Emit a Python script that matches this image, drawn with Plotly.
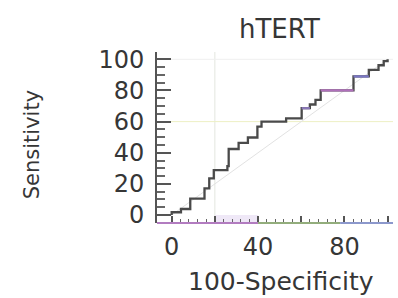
import plotly.graph_objects as go

# ---- data ----
TITLE = "hTERT"
X_TITLE = "100-Specificity"
Y_TITLE = "Sensitivity"

# ROC step corners: at FPR[i] the curve rises to TPR[i]
FPR = [0, 0, 4.3, 8.6, 15.2, 17.4, 19.5, 25.8, 26.4, 31.0, 35.3, 39.7, 41.6, 53.0, 60.2, 64.0, 66.6, 69.0, 84.2, 91.3, 95.8, 98.2, 100]
TPR = [0, 1.8, 3.9, 10.6, 17.1, 23.5, 28.8, 31.4, 42.4, 46.4, 49.8, 56.8, 60.0, 62.1, 68.6, 71.0, 74.0, 80.0, 89.0, 93.2, 96.2, 98.8, 100]

DIAG_X = [0, 100]
DIAG_Y = [0, 100]

CUT_X = 20     # vertical criterion line
CUT_Y = 60     # horizontal criterion line

X_TICKS = [0, 20, 40, 60, 80, 100]
X_LABELS = ["0", "", "40", "", "80", ""]
Y_TICKS = [0, 20, 40, 60, 80, 100]
Y_LABELS = ["0", "20", "40", "60", "80", "100"]
X_MINOR = [v for v in range(4, 100, 4) if v % 20 != 0]
Y_MINOR = [v for v in range(5, 100, 5) if v % 20 != 0]

X_RANGE = [-6.8, 102.5]
Y_RANGE = [-5.1, 104.7]

# ---- figure ----
TXT = "#363636"
AX = "#555555"
FONT = "DejaVu Sans"

fig = go.Figure()

# diagonal reference
fig.add_trace(go.Scatter(x=DIAG_X, y=DIAG_Y, mode="lines",
                         line=dict(color="#e2e2e2", width=1), hoverinfo="skip", showlegend=False))

# ROC curve
fig.add_trace(go.Scatter(x=FPR, y=TPR, mode="lines", line_shape="hv",
                         line=dict(color="#4a4a4a", width=2.3), showlegend=False))

# coloured horizontal segments (as in the reference)
HILITE = {17: "#b070bb", 18: "#7a76c4", 14: "#8a78b8"}
for i, col in HILITE.items():
    fig.add_trace(go.Scatter(x=[FPR[i], FPR[i + 1]], y=[TPR[i], TPR[i]], mode="lines",
                             line=dict(color=col, width=2.3), hoverinfo="skip", showlegend=False))

shapes = [
    dict(type="line", xref="x", yref="paper", x0=CUT_X, x1=CUT_X, y0=0, y1=1,
         line=dict(color="#e3e7df", width=1), layer="below"),
    dict(type="line", xref="paper", yref="y", x0=0, x1=1, y0=CUT_Y, y1=CUT_Y,
         line=dict(color="#eef0c4", width=1), layer="below"),
    dict(type="line", xref="paper", yref="y", x0=0, x1=1, y0=100, y1=100,
         line=dict(color="#efefef", width=1), layer="below"),
    dict(type="rect", xref="x", yref="y", x0=20, x1=40, y0=Y_RANGE[0], y1=0,
         fillcolor="#efe8f7", line=dict(width=0), layer="below"),
    # x axis line with its colour tint
    dict(type="line", xref="x", yref="paper", x0=X_RANGE[0], x1=40, y0=0, y1=0,
         line=dict(color="#b27cc0", width=2)),
    dict(type="line", xref="x", yref="paper", x0=40, x1=78, y0=0, y1=0,
         line=dict(color="#93ad7c", width=2)),
    dict(type="line", xref="x", yref="paper", x0=78, x1=X_RANGE[1], y0=0, y1=0,
         line=dict(color="#8c98cc", width=2)),
]

fig.update_layout(
    width=398, height=298, autosize=False,
    margin=dict(l=157, r=5, t=52, b=75, autoexpand=False),
    paper_bgcolor="white", plot_bgcolor="white",
    shapes=shapes,
    font=dict(family=FONT, color=TXT),
    annotations=[
        dict(text=TITLE, xref="paper", yref="paper", x=0.52, y=1.135, showarrow=False,
             xanchor="center", yanchor="middle", font=dict(size=26, color=TXT, family=FONT)),
        dict(text=X_TITLE, xref="paper", yref="paper", x=0.525, y=-0.345, showarrow=False,
             xanchor="center", yanchor="middle", font=dict(size=25, color=TXT, family=FONT)),
        dict(text=Y_TITLE, xref="paper", yref="paper", x=-0.53, y=0.46, showarrow=False,
             xanchor="center", yanchor="middle", textangle=-90,
             font=dict(size=21, color=TXT, family=FONT)),
    ],
    xaxis=dict(range=X_RANGE, tickmode="array", tickvals=X_TICKS, ticktext=X_LABELS,
               ticks="inside", ticklen=7, tickwidth=1.5, tickcolor=AX, automargin=False,
               showline=False, showgrid=False, zeroline=False,
               tickfont=dict(size=24, color=TXT, family=FONT), ticklabelstandoff=7,
               minor=dict(tickmode="array", tickvals=X_MINOR, ticks="inside",
                          ticklen=4, tickwidth=1.2, tickcolor="#666666", showgrid=False)),
    yaxis=dict(range=Y_RANGE, tickmode="array", tickvals=Y_TICKS, ticktext=Y_LABELS,
               ticks="inside", ticklen=14, tickwidth=2, tickcolor=AX, automargin=False,
               showline=True, linecolor=AX, linewidth=2,
               showgrid=False, zeroline=False,
               tickfont=dict(size=24, color=TXT, family=FONT), ticklabelstandoff=6,
               minor=dict(tickmode="array", tickvals=Y_MINOR, ticks="inside",
                          ticklen=8, tickwidth=1.5, tickcolor="#666666", showgrid=False)),
)

fig.write_html("out.html", config={"displayModeBar": False},
               post_script="document.body.style.margin='0';document.body.style.overflow='hidden';")
